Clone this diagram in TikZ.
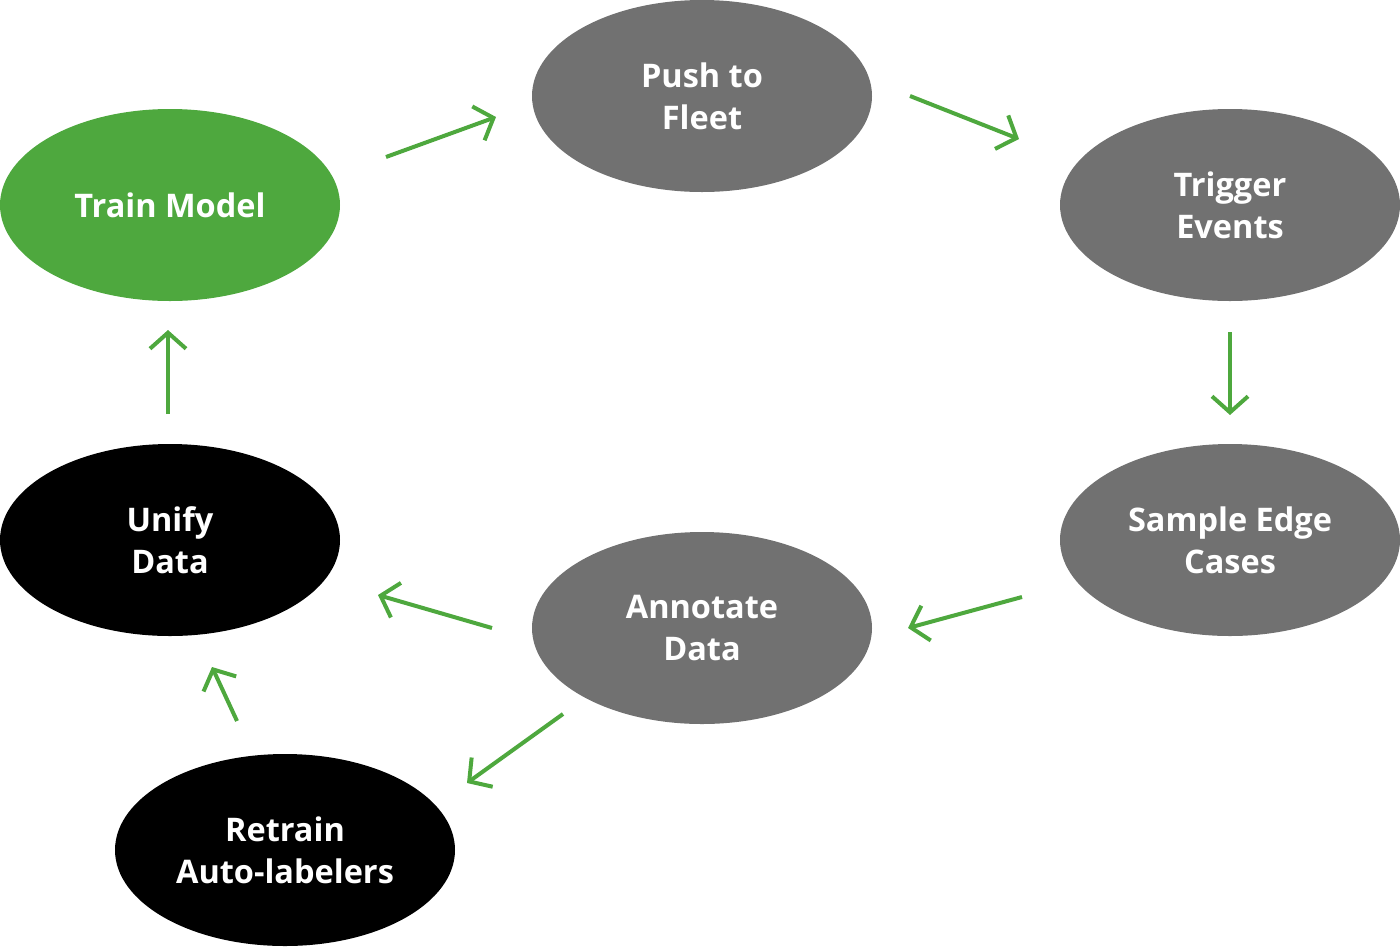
\documentclass[tikz,border=0pt]{standalone}
\usepackage{fontspec}
\setmainfont{Open Sans}
\usetikzlibrary{shapes.geometric,arrows.meta}
\definecolor{tgreen}{HTML}{4EA83E}
\definecolor{tgray}{HTML}{717171}
\tikzset{
  x=1pt,y=-1pt,
  blob/.style={ellipse,minimum width=340pt,minimum height=192pt,inner sep=0pt,
    text=white,align=center,font=\fontsize{32.5}{42}\selectfont\bfseries},
  greenblob/.style={blob,fill=tgreen},
  grayblob/.style={blob,fill=tgray},
  blackblob/.style={blob,fill=black},
  flow/.style={draw=tgreen,line width=4pt,
    -{Straight Barb[length=16pt,width=36pt,line width=4pt]}},
}
\begin{document}
\begin{tikzpicture}
\useasboundingbox (0,0) rectangle (1400,946);
\node[greenblob] (train) at (170,205) {Train Model};
\node[grayblob] (push) at (702,96) {Push to\\Fleet};
\node[grayblob] (trigger) at (1230,205) {Trigger\\Events};
\node[grayblob] (sample) at (1230,540) {Sample Edge\\Cases};
\node[grayblob] (annot) at (702,628) {Annotate\\Data};
\node[blackblob] (unify) at (170,540) {Unify\\Data};
\node[blackblob] (retrain) at (285,850) {Retrain\\Auto-labelers};
\coordinate (a1s) at (386,157); \coordinate (a1e) at (496,117);
\coordinate (a2s) at (910,96);  \coordinate (a2e) at (1019,139);
\coordinate (a3s) at (1230,332); \coordinate (a3e) at (1230,415);
\coordinate (a4s) at (1022,597); \coordinate (a4e) at (908,628);
\coordinate (a5s) at (492,628); \coordinate (a5e) at (378,595);
\coordinate (a6s) at (563,714); \coordinate (a6e) at (467,783);
\coordinate (a7s) at (237,721); \coordinate (a7e) at (212,667);
\coordinate (a8s) at (168,414); \coordinate (a8e) at (168,330);
\foreach \i in {1,...,8} \draw[flow] (a\i s) -- (a\i e);
\end{tikzpicture}
\end{document}
